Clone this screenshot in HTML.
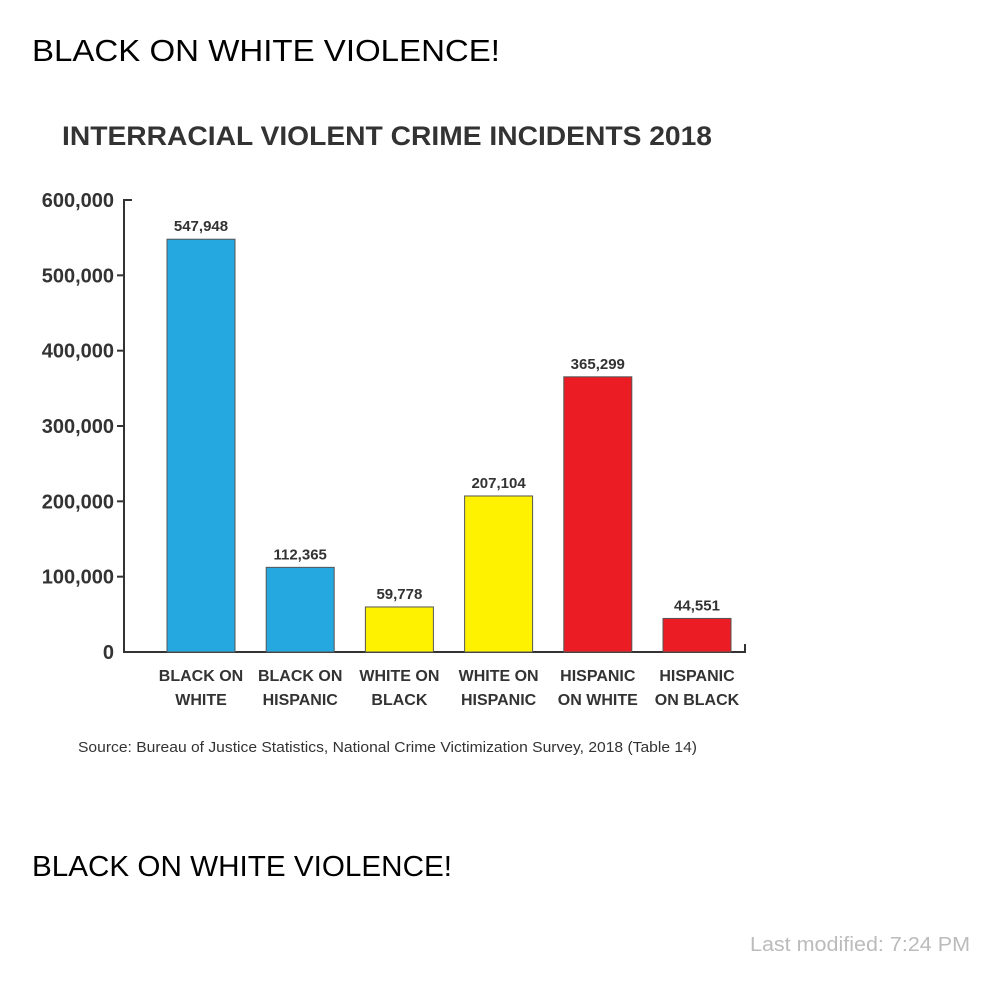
<!DOCTYPE html>
<html><head><meta charset="utf-8"><style>
body{margin:0;background:#fff;width:1000px;height:988px;overflow:hidden;font-family:"Liberation Sans",sans-serif}
</style></head><body>
<svg width="1000" height="988" viewBox="0 0 1000 988">
<text x="32" y="61" font-size="31" fill="#000" textLength="468" lengthAdjust="spacingAndGlyphs">BLACK ON WHITE VIOLENCE!</text>
<text x="62" y="145" font-size="27" font-weight="bold" fill="#333" textLength="650" lengthAdjust="spacingAndGlyphs">INTERRACIAL VIOLENT CRIME INCIDENTS 2018</text>
<g id="chart"></g>
<text x="78" y="752" font-size="15" fill="#333" textLength="619" lengthAdjust="spacingAndGlyphs">Source: Bureau of Justice Statistics, National Crime Victimization Survey, 2018 (Table 14)</text>
<text x="32" y="876" font-size="29" fill="#000" textLength="420" lengthAdjust="spacingAndGlyphs">BLACK ON WHITE VIOLENCE!</text>
<text x="750" y="951" font-size="20" fill="#bbb" textLength="220" lengthAdjust="spacingAndGlyphs">Last modified: 7:24 PM</text>
</svg>
<script>
const categories1=["BLACK ON","BLACK ON","WHITE ON","WHITE ON","HISPANIC","HISPANIC"];
const categories2=["WHITE","HISPANIC","BLACK","HISPANIC","ON WHITE","ON BLACK"];
const values=[547948,112365,59778,207104,365299,44551];
const valueLabels=["547,948","112,365","59,778","207,104","365,299","44,551"];
const colors=["#25a7df","#25a7df","#fff200","#fff200","#ec1c24","#ec1c24"];
const ticks=[0,100000,200000,300000,400000,500000,600000];
const tickLabels=["0","100,000","200,000","300,000","400,000","500,000","600,000"];
const NS="http://www.w3.org/2000/svg";
const g=document.getElementById('chart');
const y0=652,yTop=200,maxV=600000;
const y=v=>y0-(v/maxV)*(y0-yTop);
const x=i=>167+i*99.2;
const bw=68;
function mk(tag,a){const e=document.createElementNS(NS,tag);for(const k in a)e.setAttribute(k,a[k]);g.appendChild(e);return e;}
let ax=mk('path',{d:`M132 ${yTop}H124V${y0}H745V${y0-8}`,fill:'none',stroke:'#333','stroke-width':2});


ticks.forEach((t,i)=>{
  if(t>0&&t<maxV){const l=mk('line',{x1:117,x2:124,y1:y(t),y2:y(t),stroke:'#333','stroke-width':2});
  
  }
  const tx=mk('text',{x:114,y:y(t)+7,'font-size':20,'font-weight':'bold','text-anchor':'end',fill:'#333'});
  tx.textContent=tickLabels[i];
  
  
});
values.forEach((v,i)=>{
  const r=mk('rect',{x:x(i),y:y(v),width:bw,height:y0-y(v),fill:colors[i],stroke:'#555','stroke-width':1});
  
  
  const lt=mk('text',{x:x(i)+bw/2,y:y(v)-8,'font-size':15,'font-weight':'bold','text-anchor':'middle',fill:'#333'});
  lt.textContent=valueLabels[i];
  
  
  [categories1[i],categories2[i]].forEach((c,j)=>{
    const ct=mk('text',{x:x(i)+bw/2,y:681+j*24,'font-size':16,'font-weight':'bold','text-anchor':'middle',fill:'#333'});
    ct.textContent=c;
    
    
  });
});
</script>
</body></html>
